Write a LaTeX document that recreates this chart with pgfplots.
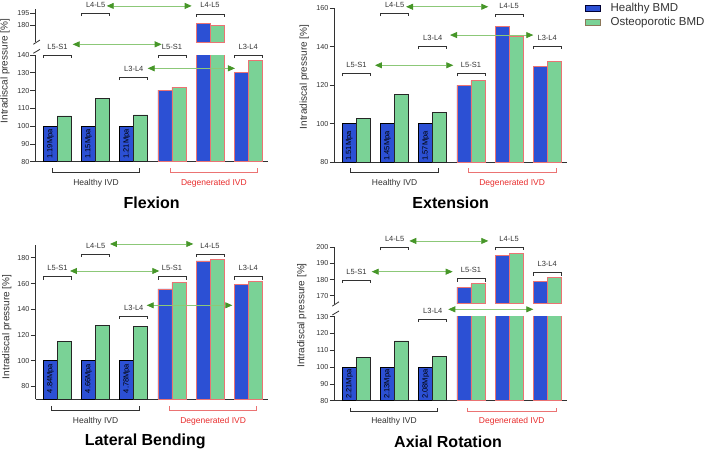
\documentclass[border=0pt]{standalone}
\usepackage{pgfplots}
\pgfplotsset{compat=1.18}
\usepackage{fontspec}
\setmainfont{Liberation Sans}
\usetikzlibrary{arrows.meta}

\definecolor{bblue}{RGB}{44,80,212}
\definecolor{bgreen}{RGB}{122,210,150}
\definecolor{degred}{RGB}{235,115,115}
\definecolor{txtred}{RGB}{232,45,45}
\definecolor{agreen}{RGB}{70,150,40}
\definecolor{lgreen}{RGB}{140,200,120}
\definecolor{dgray}{RGB}{50,50,50}
\definecolor{legbrown}{RGB}{140,120,90}

\newcommand\tbr[5]{%
  \draw[dgray, line width=0.75pt] (axis cs:#1,#4) ++(0pt,-3pt) -- ++(0pt,3pt) -- (axis cs:#2,#4) -- ++(0pt,-3pt);
  \path (axis cs:#3,#4) ++(0pt,8.5pt) node[font=\fontsize{7.5}{8}\selectfont, text=dgray, inner sep=0pt] {#5};}
\newcommand\bbr[8]{%
  \draw[#6, line width=0.75pt] (axis cs:#1,#4) ++(0pt,4pt) -- ++(0pt,-4pt) -- (axis cs:#2,#4) -- ++(0pt,4pt);
  \node[font=\fontsize{8.5}{10}\selectfont, text=#7, inner sep=0pt] at (axis cs:#3,#5) {#8};}
\newcommand\arr[3]{%
  \draw[lgreen, line width=0.8pt, arrows={Triangle[length=7pt,width=6pt,color=agreen]-Triangle[length=7pt,width=6pt,color=agreen]}] (axis cs:#1,#3) -- (axis cs:#2,#3);}
\newcommand\blab[3]{%
  \node[rotate=90, font=\fontsize{7.5}{8}\selectfont, text=black, inner sep=0pt] at (axis cs:#1,#2) {#3};}

\pgfplotsset{
  base/.style={
    scale only axis, width=232.5pt, xmin=-0.575, xmax=5.518,
    ybar, bar width=0.367, clip mode=individual,
    xtick=\empty,
    axis line style={dgray, line width=0.8pt, -},
    ytick style={dgray, line width=0.8pt},
    tick align=outside, major tick length=5pt,
    yticklabel style={font=\fontsize{7.2}{8}\selectfont, text=dgray, inner sep=1pt},
    /pgf/number format/assume math mode=true,
    ylabel style={font=\fontsize{10}{12}\selectfont, text=dgray, anchor=center},
    anchor=south west,
  },
  lower/.style={base, axis lines*=left},
  upper/.style={base, axis y line*=left, axis x line=none},
  hb/.style={fill=bblue, draw=black, line width=0.7pt, bar shift=-0.1835,
    legend image code/.code={\draw[fill=bblue, draw=black!80!blue, line width=0.8pt] (0pt,-3.2pt) rectangle (15.7pt,3.2pt); \path[draw=none, fill=none] (0pt,0pt) -- (24pt,0pt);}},
  hg/.style={fill=bgreen, draw=black!85, line width=0.7pt, bar shift=0.1835,
    legend image code/.code={\draw[fill=bgreen, draw=legbrown, line width=0.8pt] (0pt,-3.2pt) rectangle (15.7pt,3.2pt); \path[draw=none, fill=none] (0pt,0pt) -- (24pt,0pt);}},
  db/.style={fill=bblue, draw=degred, line width=0.7pt, bar shift=-0.1835},
  dg/.style={fill=bgreen, draw=degred, line width=0.7pt, bar shift=0.1835},
}

\begin{document}
\begin{tikzpicture}
\path[use as bounding box] (0pt,0pt) rectangle (708pt,451pt);

% ---------------- Flexion (upper) ----------------
\begin{axis}[upper, at={(35.5pt,409pt)}, height=33pt, ymin=160, ymax=200, ytick={180,195}]
\addplot[db] coordinates {(4,182.2)};
\addplot[dg] coordinates {(4,180.6)};
\draw[dgray, line width=0.8pt] (rel axis cs:0,0) ++(-2.2pt,-2.3pt) -- ++(6.7pt,4.3pt);
\end{axis}
% ---------------- Flexion (lower) ----------------
\begin{axis}[lower, at={(35.5pt,289.3pt)}, height=106.7pt, ymin=80, ymax=140, ytick={80,90,...,140},
  ylabel={Intradiscal pressure [\%]}, ylabel style={at={(axis description cs:-0.131,0.85)}}]
\addplot[hb] coordinates {(0,100) (1,100) (2,100)};
\addplot[hg] coordinates {(0,105.7) (1,115.4) (2,106.3)};
\addplot[db] coordinates {(3,120.2) (4,182.2) (5,130.3)};
\addplot[dg] coordinates {(3,122.0) (4,180.6) (5,137.0)};
\draw[dgray, line width=0.8pt] (rel axis cs:0,1) ++(-2.2pt,1.7pt) -- ++(6.7pt,4pt);
\blab{-0.1835}{90}{1.19Mpa}
\blab{0.8165}{90}{1.15Mpa}
\blab{1.8165}{90}{1.21Mpa}
\tbr{-0.367}{0.367}{0}{140}{L5-S1}
\tbr{0.633}{1.367}{1}{163.5}{L4-L5}
\tbr{1.633}{2.367}{2}{127.6}{L3-L4}
\tbr{2.633}{3.367}{3}{140}{L5-S1}
\tbr{3.633}{4.367}{4}{163.1}{L4-L5}
\tbr{4.633}{5.367}{5}{140}{L3-L4}
\arr{1.291}{3.518}{167.6}
\arr{0.40}{2.732}{146}
\arr{2.365}{4.653}{132.5}
\bbr{-0.124}{2.145}{1.01}{74.0}{68.0}{dgray}{dgray}{Healthy IVD}
\bbr{2.95}{5.248}{4.1}{74.0}{68.0}{degred}{txtred}{Degenerated IVD}
\node[font=\bfseries\fontsize{16}{18}\selectfont, inner sep=0pt] at (axis cs:2.47,56.8) {Flexion};
\end{axis}

% ---------------- Extension ----------------
\begin{axis}[lower, at={(334.5pt,288.7pt)}, height=154pt, ymin=80, ymax=160, ytick={80,100,...,160},
  ylabel={Intradiscal pressure [\%]}, ylabel style={at={(axis description cs:-0.13,0.554)}},
  legend entries={Healthy BMD, Osteoporotic BMD},
  legend cell align=left,
  legend style={draw=none, fill=none, at={(axis description cs:1.075,1.042)}, anchor=north west,
    font=\fontsize{11.5}{13}\selectfont, text=dgray, inner sep=0pt, row sep=1pt,
    nodes={inner sep=1.5pt}}]
\addplot[hb] coordinates {(0,100) (1,100) (2,100)};
\addplot[hg] coordinates {(0,102.7) (1,115.3) (2,106.1)};
\addplot[db] coordinates {(3,120.0) (4,150.6) (5,129.9)};
\addplot[dg] coordinates {(3,122.4) (4,145.3) (5,132.6)};
\blab{-0.1835}{88.5}{1.51Mpa}
\blab{0.8165}{88.5}{1.45Mpa}
\blab{1.8165}{88.5}{1.57Mpa}
\tbr{-0.367}{0.367}{0}{126.2}{L5-S1}
\tbr{0.633}{1.367}{1}{157.4}{L4-L5}
\tbr{1.633}{2.367}{2}{140.4}{L3-L4}
\tbr{2.633}{3.367}{3}{126.2}{L5-S1}
\tbr{3.633}{4.367}{4}{157}{L4-L5}
\tbr{4.633}{5.367}{5}{140.4}{L3-L4}
\arr{1.299}{3.455}{160.8}
\arr{2.452}{4.635}{146.1}
\arr{0.486}{2.538}{130.4}
\bbr{-0.15}{2.145}{1.0}{74.8}{69.2}{dgray}{dgray}{Healthy IVD}
\bbr{2.931}{5.229}{4.08}{74.8}{69.2}{degred}{txtred}{Degenerated IVD}
\node[font=\bfseries\fontsize{16}{18}\selectfont, inner sep=0pt] at (axis cs:2.47,58.9) {Extension};
\end{axis}

% ---------------- Lateral Bending ----------------
\begin{axis}[lower, at={(35.5pt,51.7pt)}, height=154.3pt, ymin=70, ymax=190, ytick={80,100,...,180},
  ylabel={Intradiscal pressure [\%]}, ylabel style={at={(axis description cs:-0.124,0.47)}}]
\addplot[hb] coordinates {(0,100) (1,100) (2,100)};
\addplot[hg] coordinates {(0,115.1) (1,127.2) (2,126.5)};
\addplot[db] coordinates {(3,155.8) (4,177.6) (5,159.1)};
\addplot[dg] coordinates {(3,161.0) (4,178.9) (5,161.8)};
\blab{-0.1835}{86.2}{4.84Mpa}
\blab{0.8165}{86.2}{4.66Mpa}
\blab{1.8165}{86.2}{4.78Mpa}
\tbr{-0.367}{0.367}{0}{165.3}{L5-S1}
\tbr{0.633}{1.367}{1}{183}{L4-L5}
\tbr{1.633}{2.367}{2}{134.8}{L3-L4}
\tbr{2.633}{3.367}{3}{165.3}{L5-S1}
\tbr{3.633}{4.367}{4}{183}{L4-L5}
\tbr{4.633}{5.367}{5}{165.3}{L3-L4}
\arr{1.377}{3.56}{190.8}
\arr{0.329}{2.669}{169.8}
\arr{2.339}{4.582}{143.1}
\bbr{-0.15}{2.145}{1.0}{61.7}{53.1}{dgray}{dgray}{Healthy IVD}
\bbr{2.931}{5.222}{4.08}{61.7}{53.1}{degred}{txtred}{Degenerated IVD}
\node[font=\bfseries\fontsize{16}{18}\selectfont, inner sep=0pt] at (axis cs:2.3,37) {Lateral Bending};
\end{axis}

% ---------------- Axial Rotation (upper) ----------------
\begin{axis}[upper, at={(334.5pt,147.2pt)}, height=56.5pt, ymin=165, ymax=200, ytick={170,180,190,200}]
\addplot[db] coordinates {(3,175.4) (4,195.2) (5,178.9)};
\addplot[dg] coordinates {(3,177.4) (4,196.0) (5,181.2)};
\draw[dgray, line width=0.8pt] (rel axis cs:0,0) ++(-2.2pt,-2.3pt) -- ++(6.7pt,4.3pt);
\end{axis}
% ---------------- Axial Rotation (lower) ----------------
\begin{axis}[lower, at={(334.5pt,50.3pt)}, height=84pt, ymin=80, ymax=130, ytick={80,90,...,130},
  ylabel={Intradiscal pressure [\%]}, ylabel style={at={(axis description cs:-0.141,1.014)}}]
\addplot[hb] coordinates {(0,100) (1,100) (2,100)};
\addplot[hg] coordinates {(0,105.8) (1,115.6) (2,106.4)};
\addplot[db] coordinates {(3,175.4) (4,195.2) (5,178.9)};
\addplot[dg] coordinates {(3,177.4) (4,196.0) (5,181.2)};
\draw[dgray, line width=0.8pt] (rel axis cs:0,1) ++(-2.2pt,1.7pt) -- ++(6.7pt,4pt);
\blab{-0.1835}{89.9}{2.21Mpa}
\blab{0.8165}{89.9}{2.13Mpa}
\blab{1.8165}{89.9}{2.08Mpa}
\tbr{-0.367}{0.367}{0}{151.8}{L5-S1}
\tbr{0.633}{1.367}{1}{171.3}{L4-L5}
\tbr{1.633}{2.367}{2}{128.6}{L3-L4}
\tbr{2.633}{3.367}{3}{152.6}{L5-S1}
\tbr{3.633}{4.367}{4}{171.3}{L4-L5}
\tbr{4.633}{5.367}{5}{156.2}{L3-L4}
\arr{1.385}{3.455}{175.1}
\arr{0.4}{2.522}{156.8}
\arr{2.407}{4.635}{134.4}
\bbr{-0.15}{2.119}{0.985}{73.5}{67.5}{dgray}{dgray}{Healthy IVD}
\bbr{2.916}{5.229}{4.07}{73.5}{67.5}{degred}{txtred}{Degenerated IVD}
\node[font=\bfseries\fontsize{16}{18}\selectfont, inner sep=0pt] at (axis cs:2.4,55.6) {Axial Rotation};
\end{axis}
\end{tikzpicture}
\end{document}
